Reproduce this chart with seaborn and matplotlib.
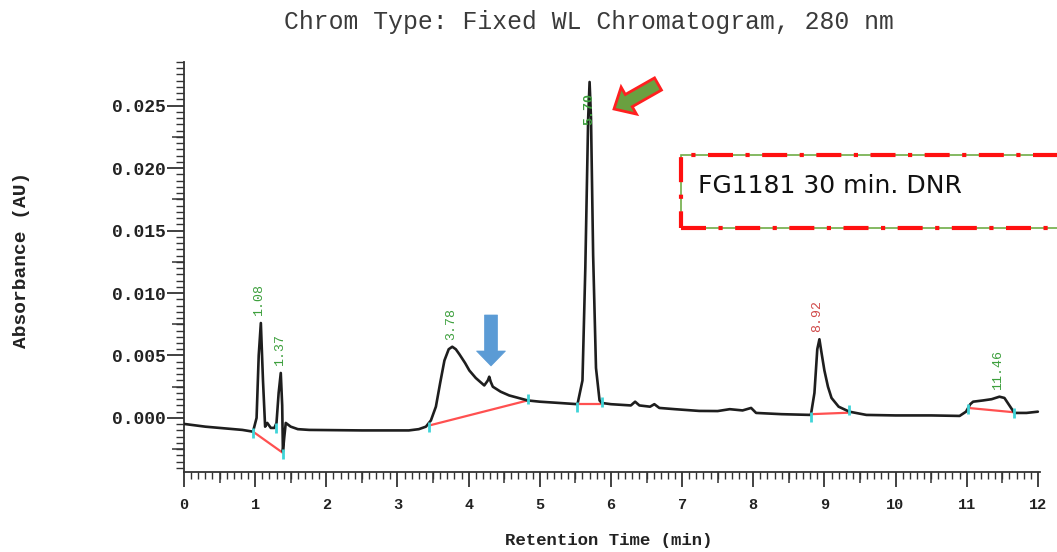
import matplotlib
matplotlib.use("Agg")
import matplotlib.pyplot as plt
import matplotlib.patches as mpatches
from matplotlib.ticker import MultipleLocator, FixedLocator, FuncFormatter
from matplotlib.transforms import IdentityTransform
import seaborn as sns
import pandas as pd

# Detector trace (retention time in min, absorbance in AU)
time_min = [0.00, 0.30, 0.60, 0.82, 0.97, 1.02, 1.05, 1.08, 1.11, 1.14, 1.17, 1.22,
            1.27, 1.30, 1.33, 1.36, 1.38, 1.39, 1.41, 1.43, 1.50, 1.60, 1.76, 2.50,
            3.16, 3.30, 3.40, 3.47, 3.54, 3.60, 3.66, 3.72, 3.77, 3.82, 3.87, 3.95,
            4.01, 4.10, 4.22, 4.27, 4.29, 4.31, 4.34, 4.45, 4.57, 4.70, 4.83, 5.00,
            5.27, 5.53, 5.60, 5.64, 5.68, 5.70, 5.72, 5.75, 5.79, 5.84, 5.87, 6.00,
            6.28, 6.34, 6.40, 6.55, 6.61, 6.68, 6.90, 7.24, 7.50, 7.67, 7.85, 7.97,
            8.04, 8.40, 8.81, 8.86, 8.90, 8.93, 8.96, 9.00, 9.05, 9.10, 9.20, 9.35,
            9.59, 10.00, 10.50, 10.90, 10.99, 11.05, 11.09, 11.23, 11.35, 11.46, 11.53,
            11.60, 11.67, 11.84, 12.00]
absorbance = [-0.00048, -0.00070, -0.00085, -0.00096, -0.00110, 0.0000, 0.0050, 0.0076,
              0.0030, -0.0007, -0.0004, -0.0008, -0.0008, -0.0004, 0.0020, 0.0036,
              0.0010, -0.0027, -0.0015, -0.0004, -0.0007, -0.0009, -0.00096, -0.0010,
              -0.0010, -0.0009, -0.0007, -0.0002, 0.0009, 0.0028, 0.0046, 0.0055,
              0.0057, 0.0055, 0.0051, 0.0044, 0.0038, 0.0032, 0.0026, 0.0030, 0.0033,
              0.0029, 0.0025, 0.0021, 0.0018, 0.0016, 0.0014, 0.0013, 0.0012, 0.0011,
              0.0030, 0.0120, 0.0240, 0.0269, 0.0240, 0.0130, 0.0040, 0.0014, 0.0012,
              0.0011, 0.0010, 0.0013, 0.0010, 0.0009, 0.0011, 0.0008, 0.0007, 0.00056,
              0.00055, 0.0007, 0.0006, 0.0008, 0.0004, 0.0003, 0.00024, 0.0020, 0.0055,
              0.0063, 0.0052, 0.0038, 0.0025, 0.0016, 0.0009, 0.0005, 0.00024, 0.0002,
              0.0002, 0.00016, 0.0005, 0.0011, 0.0013, 0.0014, 0.0015, 0.0017, 0.0016,
              0.0010, 0.0004, 0.0004, 0.0005]

# Integration baselines: (start time, start AU, end time, end AU)
base_t0 = [0.97, 3.45, 5.53, 8.81, 11.02]
base_y0 = [-0.0011, -0.0006, 0.0011, 0.0003, 0.0008]
base_t1 = [1.39, 4.83, 5.87, 9.35, 11.67]
base_y1 = [-0.0028, 0.0014, 0.0011, 0.00042, 0.00045]

# Integration event marks
event_t = [0.97, 1.29, 1.39, 3.45, 4.83, 5.53, 5.87, 8.81, 9.35, 11.02, 11.67]
event_y = [-0.0012, -0.0008, -0.0029, -0.0007, 0.0015, 0.0009, 0.0013, 0.0001, 0.0006, 0.0007, 0.0004]

# Peak retention times and apex heights
peak_rt = [1.08, 1.37, 3.78, 5.70, 8.92, 11.46]
peak_height = [0.0076, 0.0036, 0.0057, 0.0269, 0.0063, 0.0017]
peak_labels = ["1.08", "1.37", "3.78", "5.70", "8.92", "11.46"]
peak_colors = ["#3c9f3c", "#3c9f3c", "#3c9f3c", "#3c9f3c", "#d04848", "#3c9f3c"]

y_ticks = [0.000, 0.005, 0.010, 0.015, 0.020, 0.025]
x_ticks = list(range(0, 13))

sns.set_style("ticks")
plt.rcParams["font.family"] = ["Liberation Mono", "DejaVu Sans Mono"]

W, H = 1057, 552
fig = plt.figure(figsize=(W / 100, H / 100), dpi=100)
ax = fig.add_axes([184 / W, 1 - 472 / H, (1040 - 184) / W, (472 - 62) / H])

trace = pd.DataFrame({"t": time_min, "a": absorbance})
sns.lineplot(data=trace, x="t", y="a", ax=ax, color="#1e1e1e", linewidth=1.9,
             estimator=None, sort=False, zorder=3)

for t0, y0, t1, y1 in zip(base_t0, base_y0, base_t1, base_y1):
    ax.plot([t0, t1], [y0, y1], color="#ff5050", linewidth=1.6, zorder=2)

ax.plot(event_t, event_y, linestyle="none", marker="|", markersize=7,
        markeredgewidth=2, color="#40d4d8", zorder=4)

for rt, h, lab, col in zip(peak_rt, peak_height, peak_labels, peak_colors):
    if h > 0.02:
        ax.annotate(lab, (rt, h), xytext=(0, -8), textcoords="offset points",
                    rotation=90, ha="center", va="top", color=col, fontsize=9.5,
                    fontweight="bold", zorder=5)
    else:
        ax.annotate(lab, (rt, h), xytext=(-1, 5), textcoords="offset points",
                    rotation=90, ha="center", va="bottom", color=col, fontsize=9.5,
                    zorder=5)

ax.set_xlim(0, 12.03)
ax.set_ylim(-0.00433, 0.0285)
for s in ("top", "right"):
    ax.spines[s].set_visible(False)
for s in ("left", "bottom"):
    ax.spines[s].set_linewidth(1.3)
    ax.spines[s].set_color("#333333")

ax.yaxis.set_major_locator(FixedLocator(y_ticks))
ax.yaxis.set_major_formatter(FuncFormatter(lambda v, p: f"{v:.3f}"))
ax.yaxis.set_minor_locator(MultipleLocator(0.0005))
ax.xaxis.set_major_locator(FixedLocator(x_ticks))
ax.xaxis.set_minor_locator(MultipleLocator(0.1))

ax.tick_params(axis="y", which="major", direction="out", length=12, width=1.3,
               labelsize=13, pad=1, colors="#333333")
ax.tick_params(axis="y", which="minor", direction="out", length=5.5, width=1.0, colors="#333333")
ax.tick_params(axis="x", which="major", direction="out", length=11, width=1.3,
               labelsize=11, pad=8, colors="#333333")
ax.tick_params(axis="x", which="minor", direction="out", length=5, width=1.0, colors="#333333")
for lab in ax.get_xticklabels() + ax.get_yticklabels():
    lab.set_fontweight("bold")
    lab.set_color("#222222")

# medium-length ticks at half intervals
sec_y = ax.secondary_yaxis("left")
sec_y.set_yticks([0.0025, 0.0075, 0.0125, 0.0175, 0.0225, -0.0025])
sec_y.tick_params(direction="out", length=8.5, width=1.1, labelleft=False, colors="#333333")
sec_y.spines["left"].set_visible(False)
sec_x = ax.secondary_xaxis("bottom")
sec_x.set_xticks([v + 0.5 for v in x_ticks[:-1]])
sec_x.tick_params(direction="out", length=8, width=1.1, labelbottom=False, colors="#333333")
sec_x.spines["bottom"].set_visible(False)

ax.set_xlabel("")
ax.set_ylabel("")
fig.text(589 / W, 1 - 22 / H, "Chrom Type: Fixed WL Chromatogram, 280 nm",
         ha="center", va="center", fontsize=17.8, color="#3a3a3a")
fig.text(609 / W, 1 - 541 / H, "Retention Time (min)", ha="center", va="center",
         fontsize=12.5, fontweight="bold", color="#222222")
fig.text(22 / W, 1 - 260 / H, "Absorbance (AU)", ha="center", va="center",
         rotation=90, fontsize=14, fontweight="bold", color="#222222")

# sample annotation box
px = IdentityTransform()
box_g = mpatches.Rectangle((681, H - 228), 400, 73, transform=px, fill=False,
                           edgecolor="#70ad47", linewidth=1.2, clip_on=False)
box_r = mpatches.Rectangle((681, H - 228), 400, 73, transform=px, fill=False,
                           edgecolor="#ff1010", linewidth=3, linestyle=(0, (6, 3, 1, 3)),
                           clip_on=False)
fig.add_artist(box_g)
fig.add_artist(box_r)
fig.text(698 / W, 1 - 186 / H, "FG1181 30 min. DNR", ha="left", va="center",
         fontsize=18, family="DejaVu Sans", color="#111111")

# pointer arrows
green_arrow = mpatches.FancyArrow(658, H - 84, -44, -25, width=14, head_width=31,
                                  head_length=17, length_includes_head=True,
                                  transform=px, facecolor="#6aa040", edgecolor="#ff2020",
                                  linewidth=2)
blue_arrow = mpatches.FancyArrow(491, H - 315, 0, -51, width=13, head_width=29,
                                 head_length=15, length_includes_head=True,
                                 transform=px, facecolor="#5b9bd5", edgecolor="#5b9bd5",
                                 linewidth=0.5)
fig.add_artist(green_arrow)
fig.add_artist(blue_arrow)

fig.savefig("out.png", dpi=100)
